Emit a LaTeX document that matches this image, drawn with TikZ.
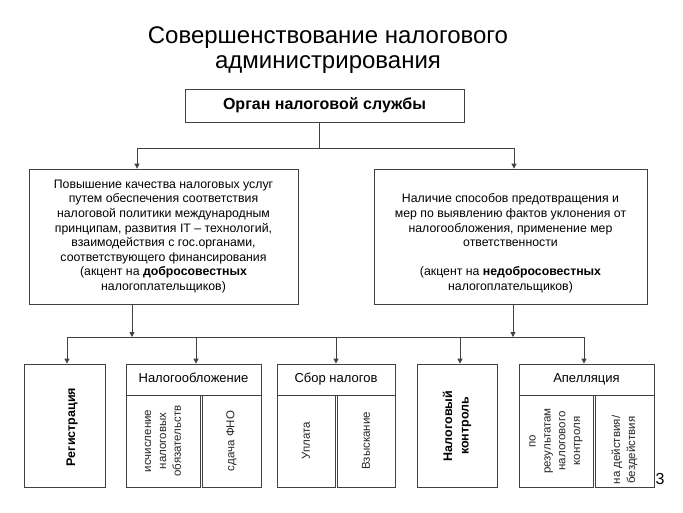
\documentclass[tikz,border=0pt]{standalone}
\usepackage{fontspec}
\setmainfont{Liberation Sans}
\usetikzlibrary{arrows.meta, positioning}

\begin{document}
\begin{tikzpicture}[x=1pt, y=-1pt, line width=0.8pt, draw=black!75, >={Triangle[length=5pt,width=5pt]}]
    \tikzstyle{every node}=[inner sep=0pt]
    \tikzstyle{box}=[rectangle, draw=black!75, fill=white, align=center]
    \tikzstyle{bigtext}=[align=center, font=\fontsize{12.3}{14.6}\selectfont]
    \tikzstyle{head}=[box, minimum height=31pt, text height=9.5pt, text depth=2.8pt, font=\fontsize{13}{15}\selectfont]
    \tikzstyle{column}=[box, rotate=90, minimum width=92pt, font=\fontsize{11.5}{14.8}\selectfont, text=black!85]
    \tikzstyle{tall}=[box, minimum height=123pt]
    \tikzstyle{talltext}=[rotate=90, align=center, font=\bfseries\fontsize{12.5}{16.5}\selectfont]

    \useasboundingbox (0,0) rectangle (683,512);

    % Title
    \node[align=center, font=\fontsize{24}{25}\selectfont] (title) at (328,50)
        {Совершенствование налогового\\администрирования};

    % Top box
    \node[box, minimum width=279pt, minimum height=33pt, font=\bfseries\fontsize{16}{18}\selectfont]
        (organ) at (324.5,105.5) {Орган налоговой службы};

    % The two directions
    \node[box, bigtext, minimum width=269pt, minimum height=135pt] (good) at (163.5,236.5)
        {Повышение качества налоговых услуг\\
         путем обеспечения соответствия\\
         налоговой политики международным\\
         принципам, развития IT -- технологий,\\
         взаимодействия с гос.органами,\\
         соответствующего финансирования\\
         (акцент на \textbf{добросовестных}\\
         налогоплательщиков)};
    \node[box, minimum width=273pt, minimum height=135pt] (bad) at (510.5,236.5) {};
    \node[bigtext] (badtext) at (510.5,243.5)
        {Наличие способов предотвращения и\\
         мер по выявлению фактов уклонения от\\
         налогообложения, применение мер\\
         ответственности\\[14.6pt]
         (акцент на \textbf{недобросовестных}\\
         налогоплательщиков)};

    % Connect the top box with the two directions
    \coordinate (split) at (319,148);
    \coordinate (split-L) at (137,148);
    \coordinate (split-R) at (514,148);
    \draw (organ.south -| split) -- (split);
    \draw (split-L) -- (split-R);
    \draw[->] (split-L) -- (split-L |- good.north);
    \draw[->] (split-R) -- (split-R |- bad.north);

    % Lower boxes
    \node[tall, minimum width=81pt] (reg) at (64.5,425.5) {};
    \node[talltext] (regtext) at (72,427) {Регистрация};

    \node[head, minimum width=135pt] (taxhead) at (193.5,379.5) {Налогообложение};
    \node[column, minimum height=74pt] (tax-a) at (163,441) {исчисление\\налоговых\\обязательств};
    \node[column, minimum height=59pt] (tax-b) at (231.5,441) {сдача ФНО};

    \node[head, minimum width=118pt] (colhead) at (336,379.5) {Сбор налогов};
    \node[column, minimum height=58pt] (col-a) at (306,441) {Уплата};
    \node[column, minimum height=58pt] (col-b) at (366,441) {Взыскание};

    \node[tall, minimum width=80pt] (ctrl) at (457,425.5) {};
    \node[talltext] (ctrltext) at (457,426) {Налоговый\\контроль};

    \node[head, minimum width=135pt] (apphead) at (586.5,379.5) {Апелляция};
    \node[column, minimum height=74pt] (app-a) at (556,441) {по\\результатам\\налогового\\контроля};
    \node[column, minimum height=59pt] (app-b) at (624.5,441) {};
    \node[rotate=90, align=center, font=\fontsize{11.5}{14.8}\selectfont, text=black!85]
        (app-btext) at (624.5,450) {на действия/\\бездействия};

    % Page number
    \node[font=\fontsize{16}{18}\selectfont] (page) at (660,479) {3};

    % Connect the two directions with the lower bus
    \coordinate (in-L) at (132,337);
    \coordinate (in-R) at (513,337);
    \draw[->] (in-L |- good.south) -- (in-L);
    \draw[->] (in-R |- bad.south) -- (in-R);
    \draw (67,337) coordinate (bus-L) -- (584,337) coordinate (bus-R);

    % Drop from the bus to every lower box
    \foreach \x/\dest in {67/reg, 196/taxhead, 336/colhead, 460/ctrl, 584/apphead}
    {
        \coordinate (drop) at (\x,337);
        \draw[->] (drop) -- (drop |- \dest.north);
    }
\end{tikzpicture}
\end{document}
